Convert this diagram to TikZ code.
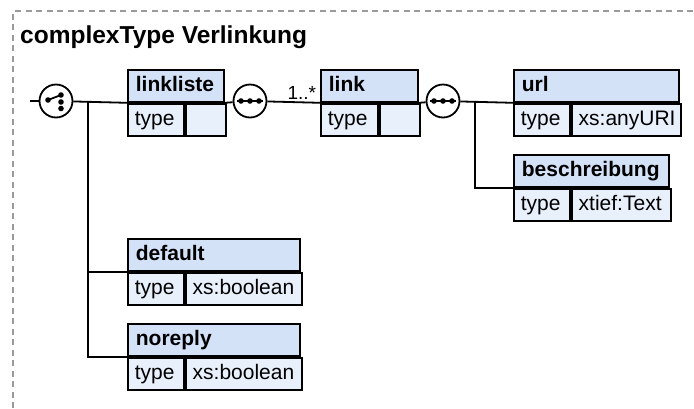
\documentclass[tikz,border=0pt]{standalone}
\usepackage{fontspec}
\setmainfont{Liberation Sans}
\usetikzlibrary{positioning}
\definecolor{hdrblue}{HTML}{D4E2F8}
\definecolor{cellblue}{HTML}{E8F0FC}
\definecolor{framegray}{HTML}{9A9A9A}

\begin{document}
\begin{tikzpicture}[
  x=1pt, y=-1pt,
  hdr/.style={draw, fill=hdrblue, line width=1.8pt, anchor=north west, align=left,
    inner xsep=8pt, inner ysep=0pt, minimum height=32pt, text height=15pt, text depth=4pt,
    font=\bfseries\fontsize{21}{25}\selectfont},
  cell/.style={draw, fill=cellblue, line width=1.8pt, anchor=north west, align=left,
    inner xsep=7pt, inner ysep=0pt, minimum height=32pt, text height=15pt, text depth=4pt,
    font=\fontsize{21}{25}\selectfont},
  grp/.style={circle, draw, fill=white, line width=1.8pt, minimum size=33pt, inner sep=0pt},
  conn/.style={line width=1.8pt},
  dot/.style={fill=black},
  frame/.style={draw=framegray, line width=1.2pt, dash pattern=on 6pt off 4.5pt}
]
\useasboundingbox (0,0) rectangle (694,408);
\draw[frame] (13,408) |- (694,11);
\node[anchor=base west, inner sep=0pt, font=\bfseries\fontsize{24.5}{28}\selectfont] (title) at (20,43) {complexType Verlinkung};

% elements
\node[hdr, text width=80pt] (linkliste) at (127,69) {linkliste};
\node[cell, text width=42pt] (linkliste-t) at (linkliste.south west) {type};
\node[cell, text width=26pt] (linkliste-v) at (linkliste-t.north east) {};
\node[hdr, text width=81pt] (link) at (320,69) {link};
\node[cell, text width=43pt] (link-t) at (link.south west) {type};
\node[cell, text width=26pt] (link-v) at (link-t.north east) {};
\node[hdr, text width=149pt] (url) at (513,69) {url};
\node[cell, text width=42pt] (url-t) at (url.south west) {type};
\node[cell, text width=95pt] (url-v) at (url-t.north east) {xs:anyURI};
\node[hdr, text width=139pt] (beschreibung) at (513,154) {beschreibung};
\node[cell, text width=42pt] (beschreibung-t) at (beschreibung.south west) {type};
\node[cell, text width=85pt] (beschreibung-v) at (beschreibung-t.north east) {xtief:Text};
\node[hdr, text width=156pt] (default) at (127,238) {default};
\node[cell, text width=42pt] (default-t) at (default.south west) {type};
\node[cell, text width=102pt] (default-v) at (default-t.north east) {xs:boolean};
\node[hdr, text width=156pt] (noreply) at (127,323) {noreply};
\node[cell, text width=42pt] (noreply-t) at (noreply.south west) {type};
\node[cell, text width=102pt] (noreply-v) at (noreply-t.north east) {xs:boolean};

% compositors
\node[grp] (choice) at (56,101) {};
\node[grp] (seq1) at (250,101) {};
\node[grp] (seq2) at (443,101) {};
\coordinate (start) at (30,101);
\coordinate (fork1) at (88,101);
\coordinate (fork2) at (475,101);

% connectors
\draw[conn] (start) -- (choice);
\draw[conn] (choice) -- (linkliste.south west);
\draw[conn] (fork1) |- (default.south west);
\draw[conn] (fork1) |- (noreply.south west);
\draw[conn] (linkliste.south east) -- (seq1);
\draw[conn] (seq1) -- node[pos=1, anchor=south east, inner xsep=3pt, inner ysep=2pt, font=\fontsize{19}{22}\selectfont] (card) {1..*} (link.south west);
\draw[conn] (link.south east) -- (seq2);
\draw[conn] (seq2) -- (url.south west);
\draw[conn] (fork2) |- (beschreibung.south west);

% icons
\draw[line width=1.8pt] ([shift={(-8,-1)}]choice.center) -- ([shift={(5,-6)}]choice.center);
\foreach \dy in {-6,1,7.5}
  \fill[dot] ([shift={(5,\dy)}]choice.center) circle (2.8pt);
\fill[dot] ([shift={(-8,-1)}]choice.center) circle (2.8pt);
\foreach \s in {seq1,seq2} {
  \draw[line width=1.8pt] ([xshift=-13pt]\s.center) -- ([xshift=13pt]\s.center);
  \foreach \dx in {-9,0,9}
    \fill[dot] ([xshift=\dx pt]\s.center) circle (2.8pt);
}
\end{tikzpicture}
\end{document}
